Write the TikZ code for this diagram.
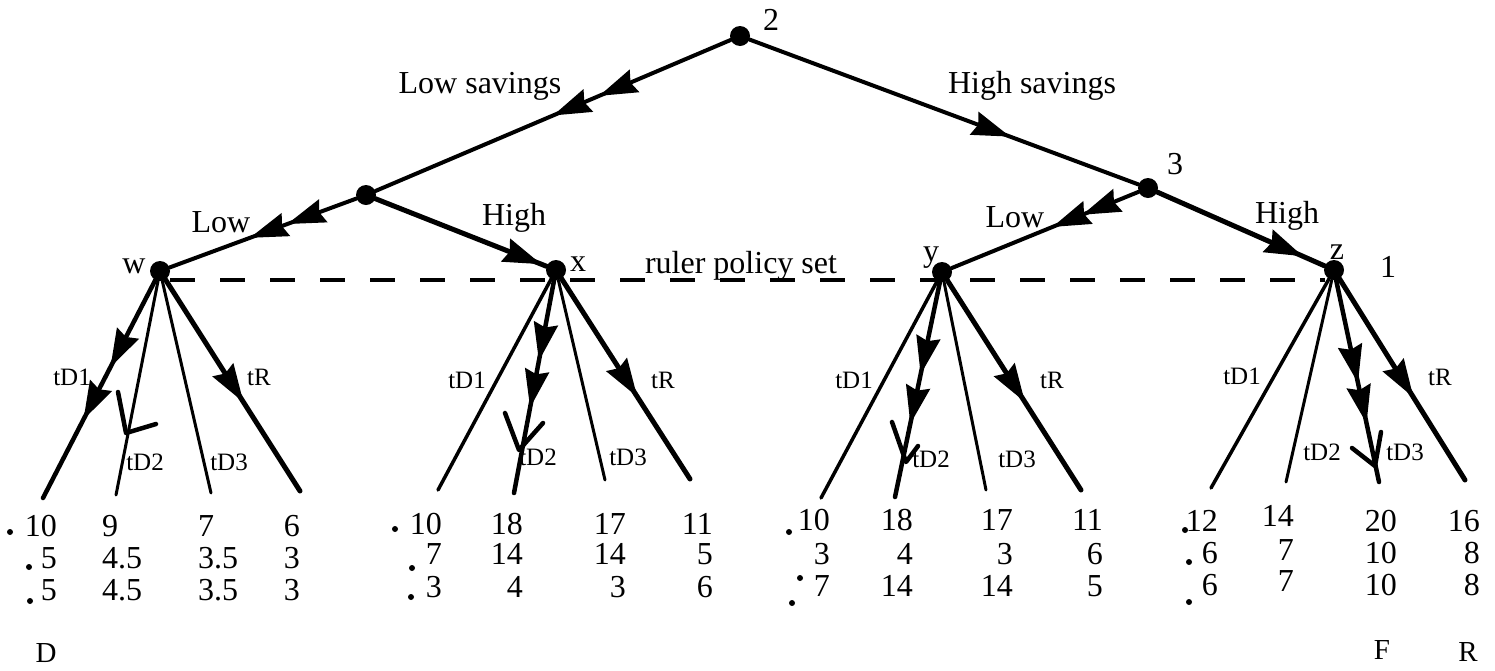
\documentclass[tikz,border=0pt]{standalone}
\usepackage{fontspec}
\setmainfont{Liberation Serif}
\usetikzlibrary{arrows.meta,decorations.markings}
\tikzset{
  dot/.style={circle,fill=black,inner sep=0pt,minimum size=20pt},
  branch/.style={line width=#1,line cap=round},
  headat/.style={postaction={decorate,decoration={markings,
    mark=at position #1 with {\arrow{Stealth[length=38pt,width=24pt,inset=4pt]}}}}},
  big/.style={font=\fontsize{32}{32}\selectfont,inner sep=0pt},
  num/.style={font=\fontsize{32}{32}\selectfont,inner sep=0pt},
  tag/.style={font=\fontsize{29}{29}\selectfont,inner sep=0pt},
  small/.style={font=\fontsize{25}{25}\selectfont,inner sep=0pt},
  tick/.style={line width=4.5pt,line cap=round,line join=round},
  speck/.style={circle,fill=black,inner sep=0pt,minimum size=6pt},
  policy/.style={line width=4pt,dash pattern=on 25pt off 25pt}
}
\begin{document}
\begin{tikzpicture}[x=1pt,y=-1pt]
\useasboundingbox (0,0) rectangle (1495,670);

% decision nodes
\node[dot] (root) at (740,36) {};
\node[dot] (A) at (366,195) {};
\node[dot] (B) at (1148,188) {};
\node[dot] (w) at (160,271) {};
\node[dot] (x) at (556,270) {};
\node[dot] (y) at (942,272) {};
\node[dot] (z) at (1334,270) {};

% node labels
\node[num] (l2) at (771,20) {2};
\node[num] (l3) at (1175,164) {3};
\node[num] (l1) at (1388,267) {1};
\node[big] (lw) at (134,266) {w};
\node[big] (lx) at (578,264) {x};
\node[big] (ly) at (931,258) {y};
\node[big] (lz) at (1337,252) {z};

% ruler policy set
\coordinate (pl) at (170,280);
\coordinate (pr) at (1325,280);
\draw[policy] (pl) -- (pr);
\node[big] (pol) at (741,266) {ruler policy set};

% upper branches
\draw[branch=4pt,headat=0.37,headat=0.50] (root) -- (A);
\draw[branch=4pt,headat=0.67] (root) -- (B);
\draw[branch=4pt,headat=0.37,headat=0.57] (A) -- (w);
\draw[branch=5pt,headat=0.97] (A) -- (x);
\draw[branch=4pt,headat=0.30,headat=0.46] (B) -- (y);
\draw[branch=5pt,headat=0.87] (B) -- (z);

\node[big] (tls) at (480,86) {Low savings};
\node[big] (ths) at (1032,86) {High savings};
\node[big] (tlA) at (221,222) {Low};
\node[big] (thA) at (514,218) {High};
\node[big] (tlB) at (1015,217) {Low};
\node[big] (thB) at (1287,216) {High};

% leaf ends
\coordinate (w1) at (43,498);   \coordinate (w2) at (116,495);
\coordinate (w3) at (211,493);  \coordinate (w4) at (300,491);
\coordinate (x1) at (438,490);  \coordinate (x2) at (514,493);
\coordinate (x3) at (605,480);  \coordinate (x4) at (690,479);
\coordinate (y1) at (821,498);  \coordinate (y2) at (895,497);
\coordinate (y3) at (986,490);  \coordinate (y4) at (1081,490);
\coordinate (z1) at (1211,488); \coordinate (z2) at (1286,482);
\coordinate (z3) at (1379,482); \coordinate (z4) at (1465,480);

% subtree at w
\draw[branch=4.5pt,headat=0.40,headat=0.64] (w) -- (w1);
\draw[branch=3pt] (w) -- (w2);
\draw[branch=3pt] (w) -- (w3);
\draw[branch=5pt,headat=0.58] (w) -- (w4);
% subtree at x
\draw[branch=3.5pt] (x) -- (x1);
\draw[branch=4.5pt,headat=0.38,headat=0.60] (x) -- (x2);
\draw[branch=3pt] (x) -- (x3);
\draw[branch=5pt,headat=0.59] (x) -- (x4);
% subtree at y
\draw[branch=3.5pt] (y) -- (y1);
\draw[branch=4.5pt,headat=0.43,headat=0.66] (y) -- (y2);
\draw[branch=3pt] (y) -- (y3);
\draw[branch=5pt,headat=0.58] (y) -- (y4);
% subtree at z
\draw[branch=3.5pt] (z) -- (z1);
\draw[branch=3pt] (z) -- (z2);
\draw[branch=4.5pt,headat=0.51,headat=0.71] (z) -- (z3);
\draw[branch=5pt,headat=0.59] (z) -- (z4);

% branch labels
\node[small] (w-d1) at (72,377) {tD1};
\node[small] (w-d2) at (145,462) {tD2};
\node[small] (w-d3) at (229,462) {tD3};
\node[small] (w-r)  at (259,377) {tR};
\node[small] (x-d1) at (467,380) {tD1};
\node[small] (x-d2) at (538,457) {tD2};
\node[small] (x-d3) at (628,457) {tD3};
\node[small] (x-r)  at (663,380) {tR};
\node[small] (y-d1) at (854,380) {tD1};
\node[small] (y-d2) at (931,459) {tD2};
\node[small] (y-d3) at (1017,459) {tD3};
\node[small] (y-r)  at (1052,380) {tR};
\node[small] (z-d1) at (1242,376) {tD1};
\node[small] (z-d2) at (1322,452) {tD2};
\node[small] (z-d3) at (1405,452) {tD3};
\node[small] (z-r)  at (1440,377) {tR};

% hand-drawn ticks
\draw[tick] (118,392) -- (126,433) -- (156,424);
\draw[tick] (505,413) -- (519,450) -- (543,423);
\draw[tick] (892,422) -- (906,462) -- (918,446);
\draw[tick] (1352,448) -- (1375,466) -- (1381,432);

% payoffs under w
\node[num,anchor=east] (pw11) at (57,526) {10};
\node[num,anchor=east] (pw21) at (57,558) {5};
\node[num,anchor=east] (pw31) at (57,590) {5};
\node[num,anchor=west] (pw12) at (102,526) {9};
\node[num,anchor=west] (pw22) at (102,558) {4.5};
\node[num,anchor=west] (pw32) at (102,590) {4.5};
\node[num,anchor=west] (pw13) at (198,526) {7};
\node[num,anchor=west] (pw23) at (198,558) {3.5};
\node[num,anchor=west] (pw33) at (198,590) {3.5};
\node[num,anchor=east] (pw14) at (300,526) {6};
\node[num,anchor=east] (pw24) at (300,558) {3};
\node[num,anchor=east] (pw34) at (300,590) {3};
% payoffs under x
\node[num,anchor=east] (px11) at (442,524) {10};
\node[num,anchor=east] (px21) at (442,554) {7};
\node[num,anchor=east] (px31) at (442,587) {3};
\node[num,anchor=east] (px12) at (523,524) {18};
\node[num,anchor=east] (px22) at (523,554) {14};
\node[num,anchor=east] (px32) at (523,587) {4};
\node[num,anchor=east] (px13) at (626,524) {17};
\node[num,anchor=east] (px23) at (626,554) {14};
\node[num,anchor=east] (px33) at (626,587) {3};
\node[num,anchor=east] (px14) at (713,524) {11};
\node[num,anchor=east] (px24) at (713,554) {5};
\node[num,anchor=east] (px34) at (713,587) {6};
% payoffs under y
\node[num,anchor=east] (py11) at (830,520) {10};
\node[num,anchor=east] (py21) at (830,554) {3};
\node[num,anchor=east] (py31) at (830,586) {7};
\node[num,anchor=east] (py12) at (913,520) {18};
\node[num,anchor=east] (py22) at (913,554) {4};
\node[num,anchor=east] (py32) at (913,586) {14};
\node[num,anchor=east] (py13) at (1013,520) {17};
\node[num,anchor=east] (py23) at (1013,554) {3};
\node[num,anchor=east] (py33) at (1013,586) {14};
\node[num,anchor=east] (py14) at (1103,520) {11};
\node[num,anchor=east] (py24) at (1103,554) {6};
\node[num,anchor=east] (py34) at (1103,586) {5};
% payoffs under z
\node[num,anchor=east] (pz11) at (1218,521) {12};
\node[num,anchor=east] (pz21) at (1218,553) {6};
\node[num,anchor=east] (pz31) at (1218,585) {6};
\node[num,anchor=east] (pz12) at (1294,516) {14};
\node[num,anchor=east] (pz22) at (1294,550) {7};
\node[num,anchor=east] (pz32) at (1294,581) {7};
\node[num,anchor=east] (pz13) at (1397,521) {20};
\node[num,anchor=east] (pz23) at (1397,553) {10};
\node[num,anchor=east] (pz33) at (1397,585) {10};
\node[num,anchor=east] (pz14) at (1480,521) {16};
\node[num,anchor=east] (pz24) at (1480,553) {8};
\node[num,anchor=east] (pz34) at (1480,585) {8};

% pencil specks beside the first column
\node[speck] (s1) at (10,532) {};
\node[speck] (s2) at (29,567) {};
\node[speck] (s3) at (30,601) {};
\node[speck] (s4) at (395,529) {};
\node[speck] (s5) at (412,568) {};
\node[speck] (s6) at (411,597) {};
\node[speck] (s7) at (789,532) {};
\node[speck] (s8) at (800,578) {};
\node[speck] (s9) at (792,603) {};
\node[speck] (s10) at (1185,530) {};
\node[speck] (s11) at (1189,562) {};
\node[speck] (s12) at (1189,602) {};

% column tags
\node[tag] (tagD) at (46,653) {D};
\node[tag] (tagF) at (1382,650) {F};
\node[tag] (tagR) at (1468,652) {R};
\end{tikzpicture}
\end{document}
